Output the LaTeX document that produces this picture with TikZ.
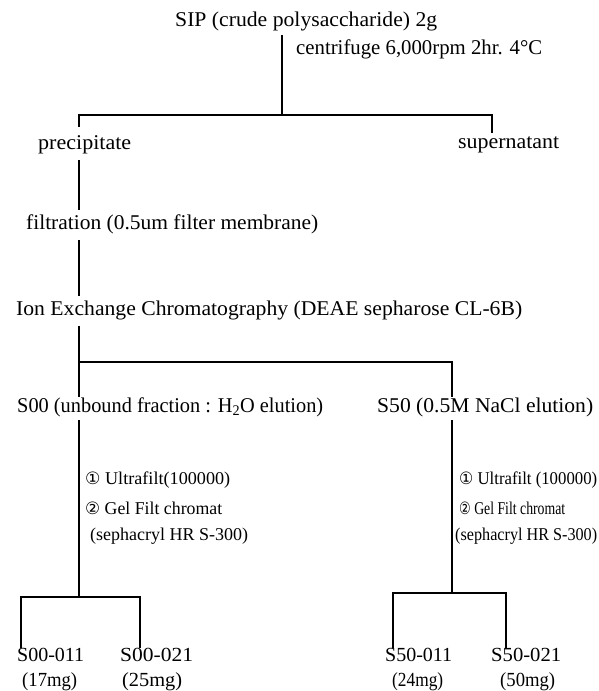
\documentclass[tikz,border=0pt]{standalone}
\usepackage{fontspec}
\usepackage{graphicx}
\setmainfont{Liberation Serif}
\newfontfamily\circfont{DejaVu Sans}
\newcommand{\fitw}[2]{\resizebox{#1pt}{\height}{#2}}
\newcommand{\cnum}[1]{{\circfont\fontsize{17pt}{17pt}\selectfont #1}}
\begin{document}
\begin{tikzpicture}[x=1pt,y=-1pt,
  lbl/.style={anchor=west,inner sep=0pt,font=\fontsize{21pt}{23pt}\selectfont},
  bot/.style={anchor=west,inner sep=0pt,font=\fontsize{20pt}{22pt}\selectfont},
  sml/.style={anchor=west,inner sep=0pt,font=\fontsize{18pt}{20pt}\selectfont},
  conn/.style={line width=1.1pt,black}]
\useasboundingbox[fill=white] (0,0) rectangle (599,691);
% text nodes
\node[lbl] (sip)  at (175,21)  {\fitw{262}{SIP (crude polysaccharide) 2g}};
\node[lbl] (cen)  at (296,49)  {\fitw{246}{centrifuge 6,000rpm 2hr. 4°C}};
\node[lbl] (prec) at (38,145)  {\fitw{93}{precipitate}};
\node[lbl] (sup)  at (458,145) {\fitw{101}{supernatant}};
\node[lbl] (filt) at (26,224)  {\fitw{292}{filtration (0.5um filter membrane)}};
\node[lbl] (ion)  at (16,310)  {\fitw{506}{Ion Exchange Chromatography (DEAE sepharose CL-6B)}};
\node[lbl] (s00)  at (17,407)  {\fitw{306}{S00 (unbound fraction : H\textsubscript{2}O elution)}};
\node[lbl] (s50)  at (377,407) {\fitw{216}{S50 (0.5M NaCl elution)}};
\node[sml] (la) at (85,480)  {\fitw{145}{\cnum{①} Ultrafilt(100000)}};
\node[sml] (lb) at (85,508)  {\fitw{137}{\cnum{②} Gel Filt chromat}};
\node[sml] (lc) at (90,536)  {\fitw{158}{(sephacryl HR S-300)}};
\node[sml] (ra) at (459,480) {\fitw{138}{\cnum{①} Ultrafilt (100000)}};
\node[sml] (rb) at (459,508) {\fitw{106}{\cnum{②} Gel Filt chromat}};
\node[sml] (rc) at (455,536) {\fitw{142}{(sephacryl HR S-300)}};
\node[bot] (a1)  at (17,655)  {\fitw{67}{S00-011}};
\node[bot] (a2)  at (120,655) {\fitw{73}{S00-021}};
\node[bot] (a1m) at (22,682)  {\fitw{55}{(17mg)}};
\node[bot] (a2m) at (122,682) {\fitw{60}{(25mg)}};
\node[bot] (b1)  at (385,655) {\fitw{67}{S50-011}};
\node[bot] (b2)  at (491,655) {\fitw{70}{S50-021}};
\node[bot] (b1m) at (392,682) {\fitw{51}{(24mg)}};
\node[bot] (b2m) at (500,682) {\fitw{55}{(50mg)}};
% junction coordinates
\coordinate (t0) at (282,35);
\coordinate (j0) at (282,115);
\coordinate (j0l) at (79,115);
\coordinate (j0r) at (492,115);
\coordinate (p0) at (79,127);
\coordinate (q0) at (492,133);
\coordinate (p1) at (79,160);
\coordinate (f0) at (79,210);
\coordinate (f1) at (79,240);
\coordinate (i0) at (79,296);
\coordinate (i1) at (79,326);
\coordinate (j1l) at (79,362);
\coordinate (j1r) at (452,362);
\coordinate (s0t) at (79,397);
\coordinate (s5t) at (452,397);
\coordinate (s0b) at (79,420);
\coordinate (s5b) at (452,420);
\coordinate (j2) at (79,597);
\coordinate (j2l) at (21,597);
\coordinate (j2r) at (140,597);
\coordinate (j3) at (452,593);
\coordinate (j3l) at (393,593);
\coordinate (j3r) at (506,593);
% connectors
\draw[conn] (t0) -- (j0);
\draw[conn] (p0) -- (j0l) -- (j0r) -- (q0);
\draw[conn] (p1) -- (f0);
\draw[conn] (f1) -- (i0);
\draw[conn] (i1) -- (s0t);
\draw[conn] (j1l) -- (j1r) -- (s5t);
\draw[conn] (s0b) -- (j2);
\draw[conn] (j2l |- a1.north) -- (j2l) -- (j2r) -- (j2r |- a2.north);
\draw[conn] (s5b) -- (j3);
\draw[conn] (j3l |- b1.north) -- (j3l) -- (j3r) -- (j3r |- b2.north);
\end{tikzpicture}
\end{document}
